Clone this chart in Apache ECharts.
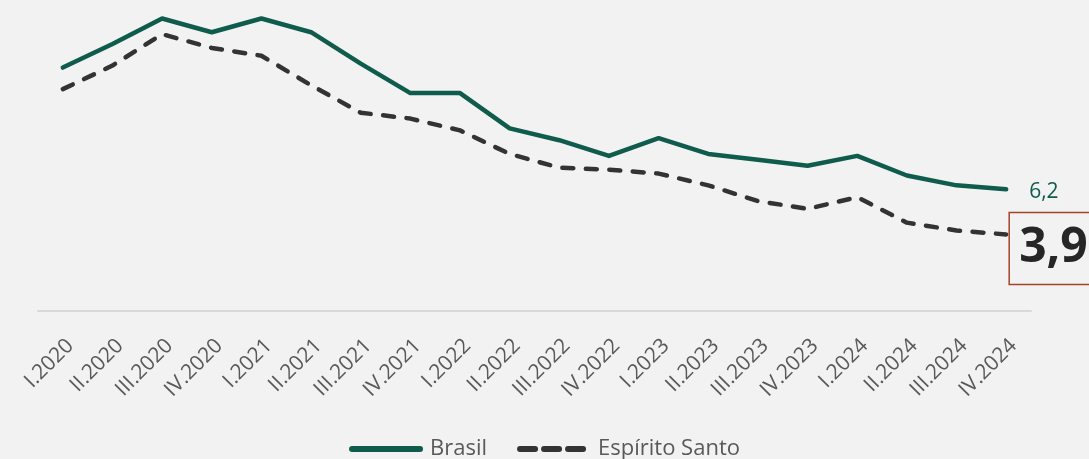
<!DOCTYPE html>
<html>
<head>
<meta charset="utf-8">
<script src="https://cdn.jsdelivr.net/npm/echarts@6/dist/echarts.min.js"></script>
<style>
html,body{margin:0;padding:0;background:#f2f2f2;}
#chart{width:1089px;height:459px;}
</style>
</head>
<body>
<div id="chart"></div>
<script>
const categories = ['I.2020','II.2020','III.2020','IV.2020','I.2021','II.2021','III.2021','IV.2021','I.2022','II.2022','III.2022','IV.2022','I.2023','II.2023','III.2023','IV.2023','I.2024','II.2024','III.2024','IV.2024'];
const brasil = [12.4,13.6,14.9,14.2,14.9,14.2,12.6,11.1,11.1,9.3,8.7,7.9,8.8,8.0,7.7,7.4,7.9,6.9,6.4,6.2];
const espiritoSanto = [11.3,12.5,14.1,13.4,13.0,11.5,10.1,9.8,9.2,8.0,7.3,7.2,7.0,6.4,5.6,5.2,5.8,4.5,4.1,3.9];

const fmt = v => String(v.toFixed(1)).replace('.', ',');
const chart = echarts.init(document.getElementById('chart'));
chart.setOption({
  backgroundColor: '#f2f2f2',
  animation: false,
  textStyle: { fontFamily: 'Open Sans' },
  grid: { left: 38, right: 58, top: 16.5, bottom: 148, containLabel: false },
  legend: {
    left: 'center', top: 433,
    itemWidth: 68, itemHeight: 14, itemGap: 30,
    itemStyle: { opacity: 0 },
    textStyle: { color: '#595959', fontSize: 22, fontFamily: 'Open Sans', padding: [0, 0, 0, 5] },
    data: [
      { name: 'Brasil', lineStyle: { width: 6, cap: 'round', type: 'solid', color: '#0f5b4c' } },
      { name: 'Espírito Santo', lineStyle: { width: 6, cap: 'round', type: [15, 9], color: '#333333' } }
    ]
  },
  xAxis: {
    type: 'category',
    data: categories,
    boundaryGap: true,
    axisLine: { lineStyle: { color: '#d9d9d9', width: 2 } },
    axisTick: { show: false },
    axisLabel: {
      rotate: 45, interval: 0, margin: 24, verticalAlign: 'top',
      color: '#595959', fontSize: 21, fontFamily: 'Open Sans'
    }
  },
  yAxis: {
    type: 'value', min: 0, max: 15,
    show: false,
    splitLine: { show: false }
  },
  series: [
    {
      name: 'Brasil', type: 'line', data: brasil,
      symbol: 'none', showSymbol: false,
      lineStyle: { color: '#0f5b4c', width: 4.5, join: 'round', cap: 'round' },
      itemStyle: { color: '#0f5b4c' },
      endLabel: {
        show: true, formatter: p => fmt(p.value), distance: 23, offset: [0, 3],
        color: '#0f5b4c', fontSize: 21, fontFamily: 'Open Sans'
      }
    },
    {
      name: 'Espírito Santo', type: 'line', data: espiritoSanto,
      symbol: 'none', showSymbol: false,
      lineStyle: { color: '#333333', width: 4.5, type: [11, 12.5], cap: 'round', join: 'round' },
      itemStyle: { color: '#333333' },
      endLabel: {
        show: true, formatter: p => fmt(p.value), distance: 3, offset: [0, 14],
        color: '#262626', fontSize: 48, fontWeight: 'bold', fontFamily: 'Open Sans',
        borderColor: '#a5432a', borderWidth: 1.5, padding: [9, 14, 7, 10], lineHeight: 56
      }
    }
  ]
});
</script>
</body>
</html>
